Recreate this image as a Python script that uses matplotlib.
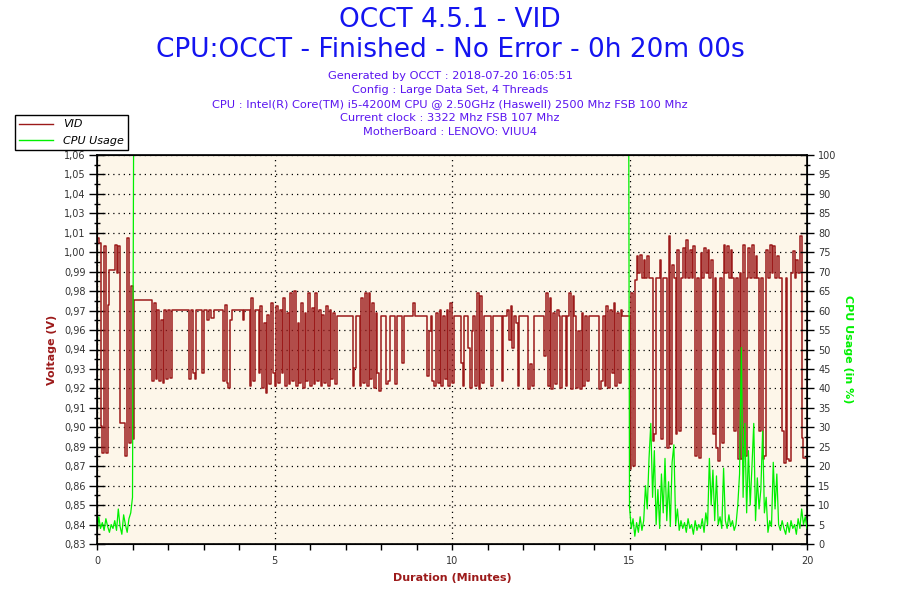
import numpy as np
import matplotlib
matplotlib.use('Agg')
import matplotlib.pyplot as plt
from matplotlib.lines import Line2D

# VID readings (volts), one sample every 0.05 minute
vid_warmup = [1.011, 1.008, 0.898, 0.882, 1.006, 0.882, 0.971, 0.992, 0.992, 0.992,
              1.007, 0.990, 1.006, 0.900, 0.900, 0.900, 0.880, 1.011, 0.888, 0.982]
vid_load = [
    0.890, 0.974, 0.974, 0.974, 0.974, 0.974, 0.974, 0.974, 0.974, 0.974, 0.974, 0.925, 0.972, 0.926, 0.968, 0.925, 0.962, 0.924, 0.968, 0.926,
    0.968, 0.927, 0.968, 0.968, 0.968, 0.968, 0.968, 0.968, 0.968, 0.968, 0.968, 0.968, 0.926, 0.968, 0.930, 0.926, 0.968, 0.968, 0.968, 0.930,
    0.968, 0.968, 0.962, 0.968, 0.963, 0.963, 0.968, 0.968, 0.968, 0.968, 0.968, 0.925, 0.971, 0.924, 0.921, 0.962, 0.968, 0.968, 0.968, 0.968,
    0.968, 0.968, 0.962, 0.968, 0.968, 0.968, 0.922, 0.975, 0.925, 0.968, 0.968, 0.930, 0.970, 0.921, 0.960, 0.918, 0.965, 0.923, 0.972, 0.930,
    0.922, 0.970, 0.924, 0.968, 0.930, 0.975, 0.922, 0.966, 0.923, 0.978, 0.925, 0.979, 0.922, 0.960, 0.924, 0.972, 0.921, 0.966, 0.925, 0.978,
    0.922, 0.969, 0.923, 0.978, 0.925, 0.968, 0.922, 0.965, 0.924, 0.970, 0.922, 0.968, 0.926, 0.966, 0.923, 0.964, 0.964, 0.964, 0.964, 0.964,
    0.964, 0.964, 0.964, 0.964, 0.922, 0.933, 0.964, 0.964, 0.922, 0.975, 0.924, 0.978, 0.922, 0.978, 0.926, 0.972, 0.921, 0.966, 0.930, 0.919,
    0.964, 0.964, 0.964, 0.923, 0.925, 0.964, 0.964, 0.964, 0.923, 0.964, 0.964, 0.964, 0.936, 0.964, 0.964, 0.964, 0.964, 0.964, 0.972, 0.964,
    0.964, 0.964, 0.964, 0.964, 0.964, 0.964, 0.928, 0.955, 0.964, 0.925, 0.922, 0.966, 0.924, 0.968, 0.922, 0.964, 0.926, 0.968, 0.922, 0.972,
    0.924, 0.964, 0.964, 0.964, 0.964, 0.936, 0.922, 0.964, 0.964, 0.945, 0.921, 0.955, 0.964, 0.922, 0.978, 0.920, 0.976, 0.924, 0.964, 0.964,
    0.964, 0.964, 0.922, 0.964, 0.964, 0.964, 0.964, 0.964, 0.925, 0.964, 0.964, 0.968, 0.950, 0.970, 0.945, 0.964, 0.960, 0.922, 0.964, 0.964,
    0.964, 0.964, 0.964, 0.920, 0.935, 0.922, 0.964, 0.964, 0.964, 0.964, 0.964, 0.964, 0.940, 0.978, 0.922, 0.975, 0.920, 0.966, 0.923, 0.968,
    0.964, 0.921, 0.964, 0.964, 0.922, 0.964, 0.978, 0.920, 0.976, 0.964, 0.921, 0.955, 0.920, 0.966, 0.922, 0.964, 0.925, 0.964, 0.964, 0.964,
    0.964, 0.964, 0.964, 0.920, 0.925, 0.964, 0.922, 0.970, 0.921, 0.968, 0.930, 0.972, 0.922, 0.966, 0.924, 0.968, 0.964, 0.964, 0.964, 0.964,
]
vid_idle = [
    0.872, 0.978, 0.874, 0.986, 1.000, 0.990, 1.001, 0.987, 0.998, 0.987, 1.000, 0.987, 0.987, 0.889, 0.893, 0.987, 0.987, 0.998, 0.890, 0.987,
    0.987, 0.885, 1.012, 0.887, 0.995, 0.987, 0.893, 1.004, 0.895, 0.987, 1.005, 0.987, 1.010, 0.987, 1.004, 0.987, 1.006, 0.880, 0.987, 0.879,
    1.002, 0.987, 1.005, 0.990, 1.004, 0.987, 0.998, 0.893, 0.987, 0.885, 0.877, 0.987, 0.888, 1.007, 0.990, 1.006, 0.987, 1.004, 0.987, 0.895,
    0.987, 0.878, 0.990, 0.878, 1.007, 0.880, 0.987, 1.005, 0.987, 1.007, 0.987, 1.000, 0.987, 0.895, 0.987, 0.878, 0.880, 1.004, 0.987, 1.007,
    0.990, 1.006, 0.987, 1.000, 0.987, 0.987, 0.895, 0.876, 0.987, 0.878, 0.877, 0.990, 1.003, 0.987, 0.998, 0.990, 1.012, 0.891, 0.879, 0.879,
]

# CPU usage (%), warmup and idle parts sampled every 0.05 minute, plateau in between
cpu_warmup = [2.5, 7.0, 4.0, 5.5, 3.5, 6.5, 4.5, 3.0, 5.0, 4.0, 6.0,
              3.5, 9.0, 4.5, 2.5, 7.5, 5.0, 3.0, 6.5, 8.0, 12.0]
cpu_plateau_t = [1.03, 14.98]
cpu_plateau = [100, 100]
cpu_idle = [
    9.5, 4.0, 6.5, 2.0, 5.5, 3.0, 7.0, 3.5, 6.0, 15.0, 9.0, 22.0, 31.0, 12.0, 24.0, 5.0, 14.0, 4.0, 18.0, 8.0,
    22.0, 6.0, 16.0, 4.5, 21.0, 25.5, 5.0, 9.0, 3.5, 6.0, 4.0, 5.5, 3.0, 6.5, 4.0, 5.0, 2.5, 6.0, 3.5, 5.0,
    4.0, 6.5, 3.0, 8.0, 5.0, 22.0, 10.0, 19.0, 6.0, 17.5, 5.0, 7.0, 4.0, 19.5, 6.0, 4.0, 7.5, 4.5, 6.0, 3.5,
    5.0, 10.0, 18.0, 50.5, 12.0, 31.0, 8.0, 24.0, 10.0, 20.0, 31.0, 6.0, 17.0, 9.0, 14.0, 29.0, 8.0, 12.0, 3.0, 6.0,
    4.5, 21.0, 9.0, 18.0, 5.0, 3.5, 6.0, 4.0, 2.5, 5.5, 3.0, 6.0, 4.0, 5.0, 2.5, 6.5, 4.0, 9.0, 5.0, 7.0, 4.0,
]

volt_labels = ['0,83', '0,84', '0,85', '0,86', '0,87', '0,89', '0,90', '0,91', '0,92', '0,93', '0,94',
               '0,96', '0,97', '0,98', '0,99', '1,00', '1,01', '1,03', '1,04', '1,05', '1,06']
volt_min, volt_max = 0.827, 1.061

title_lines = ['OCCT 4.5.1 - VID', 'CPU:OCCT - Finished - No Error - 0h 20m 00s']
info_lines = ['Generated by OCCT : 2018-07-20 16:05:51',
              'Config : Large Data Set, 4 Threads',
              'CPU : Intel(R) Core(TM) i5-4200M CPU @ 2.50GHz (Haswell) 2500 Mhz FSB 100 Mhz',
              'Current clock : 3322 Mhz FSB 107 Mhz',
              'MotherBoard : LENOVO: VIUU4']

red = '#9c1a1a'
green = '#00f000'
tick_col = '#333333'

vid = np.array(vid_warmup + vid_load + vid_idle)
vid_t = np.arange(len(vid)) * 0.05
vid_t = np.append(vid_t, 20.0)
vid = np.append(vid, vid[-1])

cpu_t = np.concatenate([np.arange(len(cpu_warmup)) * 0.05, cpu_plateau_t,
                        15.0 + np.arange(len(cpu_idle)) * 0.05])
cpu = np.concatenate([cpu_warmup, cpu_plateau, cpu_idle])

fig = plt.figure(figsize=(9, 6), dpi=100)
ax = fig.add_axes([97 / 900, 56 / 600, 710 / 900, 389 / 600])
ax.set_facecolor('#fdf6e9')

ax.step(vid_t, vid, where='post', color=red, lw=1.1)
ax.set_xlim(0, 20)
ax.set_ylim(volt_min, volt_max)

vticks = np.linspace(volt_min, volt_max, 21)
ax.set_yticks(vticks)
ax.set_yticklabels(volt_labels)
ax.set_yticks((vticks[:-1] + vticks[1:]) / 2, minor=True)
ax.set_xticks([0, 5, 10, 15, 20])
ax.set_xticks(np.arange(0, 21, 1), minor=True)

ax.grid(True, which='major', color='black', linestyle=(0, (1, 3.2)), linewidth=0.9)
ax.tick_params(axis='y', which='major', direction='inout', length=12, width=1,
               labelsize=7, labelcolor=tick_col, pad=2)
ax.tick_params(axis='y', which='minor', direction='inout', length=5, width=1)
ax.tick_params(axis='x', which='both', direction='out', length=4, width=1,
               labelsize=7, labelcolor=tick_col, pad=5)
for s in ax.spines.values():
    s.set_linewidth(1.2)

ax2 = ax.twinx()
ax2.plot(cpu_t, cpu, color=green, lw=0.9)
ax2.set_ylim(0, 100)
ax2.set_yticks(np.arange(0, 101, 5))
ax2.set_yticks(np.arange(2.5, 100, 5), minor=True)
ax2.tick_params(axis='y', which='major', direction='inout', length=10, width=1,
                labelsize=7, labelcolor=tick_col, pad=3)
ax2.tick_params(axis='y', which='minor', direction='inout', length=5, width=1)

ax.set_xlabel('Duration (Minutes)', color=red, fontsize=8, fontweight='bold', labelpad=5)
ax.set_ylabel('Voltage (V)', color=red, fontsize=8, fontweight='bold', labelpad=5)
ax2.set_ylabel('CPU Usage (in %)', color=green, fontsize=8, fontweight='bold',
               rotation=-90, labelpad=12)

for i, line in enumerate(title_lines):
    fig.text(0.5, 1 - (20 + 30 * i) / 600, line, ha='center', va='center',
             color='#1414f0', fontsize=19)
for i, line in enumerate(info_lines):
    fig.text(0.5, 1 - (76 + 14 * i) / 600, line, ha='center', va='center',
             color='#5a14f0', fontsize=8.2)

handles = [Line2D([], [], color=red, lw=1), Line2D([], [], color=green, lw=1)]
leg = fig.legend(handles, ['VID', 'CPU Usage'], loc='upper left',
                 bbox_to_anchor=(15 / 900, 1 - 115 / 600), frameon=True,
                 fancybox=False, edgecolor='black', framealpha=1,
                 prop={'size': 8, 'style': 'italic'}, handlelength=3.0,
                 borderpad=0.4, labelspacing=0.55, handletextpad=0.9,
                 borderaxespad=0)
leg.get_frame().set_linewidth(1)

fig.savefig('out.png', dpi=100)
